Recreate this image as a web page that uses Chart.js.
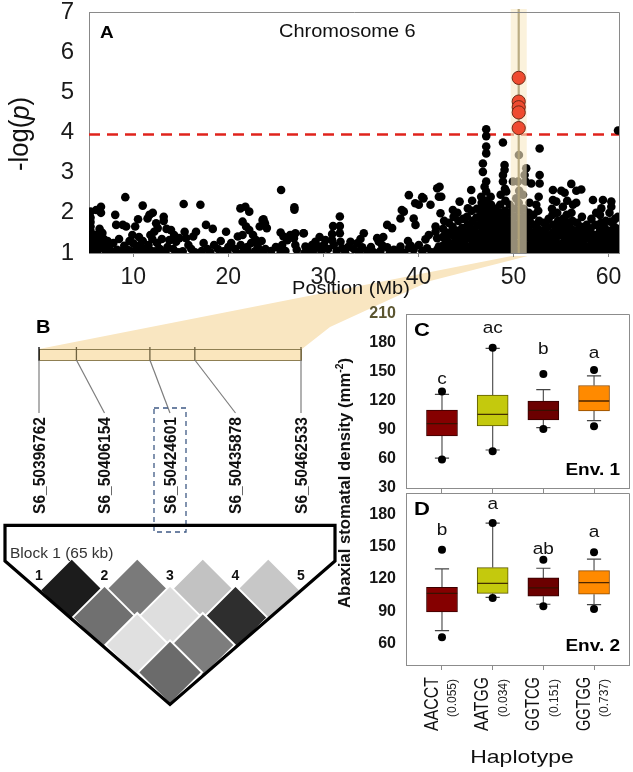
<!DOCTYPE html>
<html>
<head>
<meta charset="utf-8">
<script src="https://cdn.jsdelivr.net/npm/chart.js@4.4.1/dist/chart.umd.min.js"></script>
<style>
  html, body { margin: 0; padding: 0; background: #ffffff; }
  #wrap { position: relative; width: 633px; height: 772px; overflow: hidden; background: #fff; }
  canvas { position: absolute; left: 0; top: 0; }
</style>
</head>
<body>
<div id="wrap">
  <canvas id="cA" width="633" height="772"></canvas>
  <canvas id="cB" width="633" height="772"></canvas>
  <canvas id="cC" width="633" height="772"></canvas>
  <canvas id="cD" width="633" height="772"></canvas>
</div>
<script>
// ---------------- DATA ----------------
// Panel A: Manhattan plot, chromosome 6 (position in Mb, -log(p))
const xTicksA = [10, 20, 30, 40, 50, 60];
const xRangeA = [5.34, 61.1];
const yRangeA = [1, 7];
const thresholdA = 3.95;
const bandMb = 50.55;

const snpsRegion1 = [
[5.45,1.04],[5.45,1.14],[5.45,1.24],[5.45,1.34],[5.45,1.44],[5.5,1.55],[5.5,1.66],[5.5,1.77],[5.5,1.88],[5.5,2.03],
[5.9,1.08],[5.9,1.2],[5.95,1.32],[6.0,1.45],[6.1,2.07],[6.2,1.04],[6.3,1.15],[6.35,1.38],[6.45,1.6],[6.6,2.15],
[6.6,2.0],[6.55,1.27],[6.7,1.12],[6.75,1.5],[6.9,1.35],[7.0,1.22],[7.1,1.06],[7.3,1.3],[7.45,1.14],[7.7,1.04],
[7.9,1.25],[8.1,1.95],[8.2,1.7],[8.3,1.08],[8.5,1.35],[8.7,1.04],[8.9,1.7],[9.16,2.39],[9.25,1.66],[9.05,1.18],
[9.4,1.08],[9.6,1.3],[9.8,1.04],[10.2,1.66],[10.0,1.24],[10.5,1.84],[10.4,1.13],[10.6,1.4],[10.8,1.04],[10.99,2.18],
[11.0,1.3],[11.2,1.1],[11.5,1.86],[11.7,1.95],[11.6,1.2],[11.8,1.45],[12.05,2.0],[12.2,1.53],[12.4,1.74],[12.57,1.62],
[12.3,1.04],[12.5,1.25],[12.8,1.1],[13.2,1.9],[13.2,1.8],[13.0,1.35],[13.4,1.04],[13.8,1.32],[13.97,1.57],[14.3,1.45],
[14.5,1.28],[14.85,1.37],[14.2,1.1],[15.3,2.22],[15.4,1.53],[15.55,1.37],[15.2,1.04],[15.8,1.2],[16.3,1.41],[16.6,1.53],
[16.1,1.1],[17.06,2.2],[17.4,1.25],[17.65,1.7],[17.8,1.1],[18.36,1.6],[18.5,1.2],[18.9,1.1],[19.2,1.3],[19.76,1.53],
[19.5,1.04],[20.0,1.15],[20.3,1.25],[20.7,1.1],[21.0,1.41],[21.27,2.11],[21.5,1.78],[21.5,1.45],[21.79,2.15],[21.87,1.66],
[22.2,2.03],[22.2,1.57],[22.6,1.45],[22.9,1.32],[23.3,1.66],[23.6,1.82],[21.3,1.2],[21.6,1.04],[22.0,1.15],[22.4,1.25],
[22.8,1.04],[23.1,1.15],[23.5,1.3],[23.9,1.1],[6.0,1.0],[7.3,1.02],[9.3,1.0],[10.3,1.02],[11.4,1.02],[11.9,1.05],
[12.9,1.0],[13.6,1.15],[14.7,1.02],[16.5,1.02],[17.2,1.05],[18.1,1.02],[19.9,1.02],[20.9,1.0],[22.2,1.0],[23.4,1.02],
[10.7,1.2],[9.9,1.45],[13.5,1.6],[12.0,1.35]
];

const snpsRegion2 = [
[23.7,1.84],[23.85,1.74],[24.05,1.62],[25.55,2.57],[26.95,2.14],[26.95,2.08],[25.5,1.51],[25.8,1.41],[26.2,1.32],[26.5,1.45],
[27.05,1.49],[26.9,1.37],[27.9,1.49],[25.66,1.2],[25.5,1.03],[27.05,1.2],[27.2,1.08],[28.11,1.16],[28.81,1.2],[29.16,1.28],
[29.52,1.16],[30.04,1.2],[30.22,1.32],[30.92,1.32],[31.09,1.2],[31.8,1.28],[31.97,1.12],[32.85,1.28],[33.55,1.24],[34.08,1.14],
[33.73,1.03],[34.25,1.49],[35.66,1.37],[35.83,1.28],[36.18,1.2],[36.71,1.14],[37.41,1.08],[38.11,1.16],[38.99,1.12],[39.5,1.08],
[40.04,1.2],[40.74,1.34],[41.09,1.45],[41.8,1.53],[41.97,1.37],[42.15,1.16],[41.97,1.08],
[31.02,1.67],[31.73,1.67],[31.73,1.91],[31.73,1.49],[30.92,1.47],[36.71,1.7],[37.23,1.62],[38.11,1.86],[38.46,2.03],[38.99,2.44],
[39.5,1.86],[39.69,1.7],[40.04,2.2],[40.39,2.39],[41.27,2.2],[41.8,1.66],[41.97,2.61],[42.15,2.4],[42.32,1.99],[27.94,1.49],
[28.46,1.12],[24.5,1.05],[25.0,1.15],[26.0,1.05],[28.0,1.0],[28.6,1.05],[29.0,1.08],[29.8,1.03],[30.5,1.1],[31.4,1.05],
[32.3,1.0],[32.6,1.15],[33.2,1.1],[34.6,1.05],[35.0,1.15],[35.3,1.02],[36.0,1.05],[37.0,1.0],[37.8,1.05],[38.5,1.0],
[39.2,1.18],[40.4,1.05],[40.9,1.12],[41.4,1.02],[36.3,1.4],[38.9,1.3],[33.9,1.35],[29.6,1.4],[38.25,2.07],[39.66,2.24],
[40.53,2.36]
];

const snpsRegion3 = [
[47.13,4.08],[47.13,3.91],[47.13,3.65],[47.13,3.48],[46.78,3.23],[46.78,3.02],[48.89,3.75],[49.06,3.19],[49.06,3.07],[48.89,2.94],
[48.89,2.78],[49.94,2.78],[47.13,2.78],[46.96,2.65],[47.13,2.53],[45.55,2.57],[42.22,2.65],[42.4,2.4],[44.33,2.28],[43.62,2.07],
[45.2,2.11],[49.24,2.53],[50.29,2.36],
[42.6,1.05],[42.65,1.2],[42.55,1.4],[42.6,1.6],[42.7,1.8],
[43.1,1.0],[43.15,1.15],[43.05,1.3],[43.1,1.5],[43.2,1.75],
[43.6,1.08],[43.65,1.25],[43.55,1.45],[43.6,1.65],[43.7,1.9],
[44.1,1.02],[44.15,1.18],[44.05,1.35],[44.1,1.55],[44.2,1.8],[44.1,2.0],
[44.6,1.1],[44.65,1.28],[44.55,1.45],[44.6,1.62],[44.7,1.85],
[45.1,1.0],[45.15,1.15],[45.05,1.35],[45.1,1.5],[45.2,1.7],[45.1,1.9],
[45.6,1.08],[45.65,1.22],[45.55,1.4],[45.6,1.6],[45.7,1.8],[45.6,2.05],[45.65,2.3],
[46.1,1.02],[46.15,1.18],[46.05,1.32],[46.1,1.5],[46.2,1.68],[46.1,1.88],[46.15,2.1],
[46.6,1.05],[46.65,1.2],[46.55,1.35],[46.6,1.5],[46.7,1.65],[46.6,1.8],[46.55,1.95],[46.6,2.1],[46.65,2.25],[46.6,2.4],
[47.1,1.1],[47.15,1.25],[47.05,1.4],[47.1,1.55],[47.2,1.7],[47.1,1.85],[47.05,2.0],[47.15,2.15],[47.1,2.3],
[47.6,1.0],[47.65,1.15],[47.55,1.3],[47.6,1.45],[47.7,1.6],[47.6,1.75],[47.55,1.9],[47.6,2.05],[47.65,2.2],[47.6,2.4],
[48.1,1.05],[48.15,1.2],[48.05,1.35],[48.1,1.5],[48.2,1.65],[48.1,1.8],[48.05,1.95],[48.1,2.1],
[48.6,1.1],[48.65,1.25],[48.55,1.4],[48.6,1.55],[48.7,1.7],[48.6,1.85],[48.55,2.0],[48.6,2.2],[48.65,2.45],
[49.1,1.0],[49.15,1.15],[49.05,1.3],[49.1,1.45],[49.2,1.6],[49.1,1.75],[49.05,1.9],[49.1,2.05],[49.15,2.3],[49.1,2.6],
[49.6,1.05],[49.65,1.2],[49.55,1.35],[49.6,1.5],[49.7,1.65],[49.6,1.8],[49.55,2.0],[49.6,2.2],
[50.1,1.1],[50.15,1.25],[50.05,1.4],[50.1,1.55],[50.2,1.7],[50.1,1.9],[50.05,2.1]
];

const snpsRegion4 = [
[51.34,3.11],[50.57,3.44],[51.17,2.94],[51.27,2.78],[50.47,2.78],[51.87,2.73],[52.75,3.6],[52.75,2.94],[52.75,2.73],[51.69,2.25],
[52.4,2.2],[54.15,2.57],[55.03,2.55],[55.38,2.5],[56.08,2.72],[56.61,2.55],[57.13,2.58],[54.15,2.32],[54.5,2.28],[55.2,2.15],
[56.26,2.2],[58.36,2.32],[59.41,2.32],[60.29,2.28],[59.24,2.11],[60.29,2.15],[60.99,1.9],[61.0,4.05],[50.6,2.55],[51.0,2.45],
[50.6,1.05],[50.65,1.25],[50.55,1.45],[50.6,1.65],[50.7,1.85],[50.6,2.05],[50.55,2.25],
[51.1,1.0],[51.15,1.15],[51.05,1.3],[51.1,1.5],[51.2,1.7],[51.1,1.9],[51.05,2.1],
[51.6,1.05],[51.65,1.2],[51.55,1.4],[51.6,1.6],[51.7,1.8],[51.6,2.0],
[52.1,1.0],[52.15,1.15],[52.05,1.3],[52.1,1.5],[52.2,1.7],[52.1,1.95],
[52.6,1.08],[52.65,1.25],[52.55,1.42],[52.6,1.6],[52.7,1.8],[52.6,2.05],[52.65,2.4],
[53.1,1.02],[53.15,1.2],[53.05,1.38],[53.1,1.55],[53.2,1.75],
[53.6,1.1],[53.65,1.28],[53.55,1.45],[53.6,1.65],[53.7,1.85],
[54.1,1.0],[54.15,1.15],[54.05,1.32],[54.1,1.5],[54.2,1.7],[54.1,1.95],[54.05,2.1],
[54.6,1.05],[54.65,1.22],[54.55,1.4],[54.6,1.6],[54.7,1.8],[54.6,2.0],
[55.1,1.1],[55.15,1.25],[55.05,1.45],[55.1,1.65],[55.2,1.85],
[55.6,1.0],[55.65,1.18],[55.55,1.35],[55.6,1.55],[55.7,1.75],[55.6,1.95],[55.65,2.3],
[56.1,1.08],[56.15,1.25],[56.05,1.42],[56.1,1.6],[56.2,1.8],[56.1,2.0],
[56.6,1.02],[56.65,1.2],[56.55,1.38],[56.6,1.55],[56.7,1.75],[56.6,2.25],
[57.1,1.1],[57.15,1.28],[57.05,1.45],[57.1,1.65],[57.2,1.9],
[57.6,1.0],[57.65,1.15],[57.55,1.35],[57.6,1.55],[57.7,1.7],
[58.1,1.05],[58.15,1.22],[58.05,1.4],[58.1,1.6],[58.2,1.85],
[58.6,1.1],[58.65,1.28],[58.55,1.45],[58.6,1.7],[58.7,2.0],
[59.1,1.0],[59.15,1.18],[59.05,1.35],[59.1,1.55],[59.2,1.75],[59.1,1.95],
[59.6,1.08],[59.65,1.25],[59.55,1.42],[59.6,1.62],[59.7,1.8],
[60.1,1.02],[60.15,1.2],[60.05,1.38],[60.1,1.55],[60.2,1.78],[60.1,2.0],
[60.6,1.1],[60.65,1.28],[60.55,1.45],[60.6,1.65],[60.7,1.85],
[61.0,1.05],[61.0,1.2],[61.0,1.4],[61.0,1.6]
];

// significant SNPs in the highlighted locus
const leadSnps = [[50.55,5.36],[50.55,4.77],[50.55,4.63],[50.55,4.5],[50.55,4.11]];

// Panel B: LD block
const snpNames = ['S6_50396762','S6_50406154','S6_50424601','S6_50435878','S6_50462533'];
const snpPositions = [50396762, 50406154, 50424601, 50435878, 50462533];
const leadSnpIndex = 2;
const ldPairs = [[1,2],[2,3],[3,4],[4,5],[1,3],[2,4],[3,5],[1,4],[2,5],[1,5]];
const ldR2 = [0.89, 0.52, 0.24, 0.22, 0.56, 0.13, 0.82, 0.12, 0.51, 0.58];
const blockLabel = 'Block 1 (65 kb)';

// Panels C/D: abaxial stomatal density by haplotype
const haplotypes = ['AACCT','AATGG','GGTCG','GGTGG'];
const haploFreq = ['(0.055)','(0.034)','(0.151)','(0.737)'];
const yTicksC = [30, 60, 90, 120, 150, 180, 210];
const yTicksD = [60, 90, 120, 150, 180];

const cLow  = [61.0, 69.3, 92.4, 99.7];
const cQ1   = [83.8, 94.1, 100.3, 109.7];
const cMed  = [96.6, 106.2, 110.3, 120.0];
const cQ3   = [110.7, 126.2, 120.0, 136.0];
const cHigh = [126.9, 174.5, 131.7, 146.0];
const cOutliers = [[1,129.7],[1,59.5],[2,175.0],[2,68.0],[3,148.0],[3,91.0],[4,152.0],[4,94.0]];
const cLetters = ['c','ac','b','a'];

const dLow  = [71.9, 103.0, 96.5, 96.1];
const dQ1   = [89.3, 106.7, 104.0, 105.8];
const dMed  = [106.7, 116.0, 111.7, 116.6];
const dQ3   = [112.3, 130.6, 121.0, 127.8];
const dHigh = [129.4, 172.0, 130.0, 138.4];
const dOutliers = [[1,147.1],[1,65.7],[2,172.0],[2,102.4],[3,137.8],[3,94.6],[4,145.0],[4,92.1]];
const dLetters = ['b','a','ab','a'];

// ---------------- STYLE / HELPERS ----------------
const FONT = "'Liberation Sans', Arial, Helvetica, sans-serif";
Chart.defaults.font.family = FONT;

function txt(ctx, s, x, y, o) {
  ctx.save();
  ctx.translate(x, y);
  if (o.rot) ctx.rotate(o.rot);
  ctx.font = o.font;
  ctx.fillStyle = o.color || '#000';
  ctx.textAlign = o.align || 'center';
  ctx.textBaseline = o.base || 'middle';
  let sx = o.sx || 1, sy = o.sy || 1;
  if (o.len) sx = o.len / ctx.measureText(s).width;
  ctx.scale(sx, sy);
  ctx.fillText(s, 0, 0);
  ctx.restore();
}

const baseOpts = {
  responsive: false, animation: false, events: [],
  plugins: { legend: { display: false }, tooltip: { enabled: false } }
};
const toPts = arr => arr.map(p => ({ x: p[0], y: p[1] }));
const noPadY = s => { s.paddingTop = 0; s.paddingBottom = 0; };
const noPadX = s => { s.paddingLeft = 0; s.paddingRight = 0; };

// pin a chart's plotting area to given page pixels (corrects any layout drift)
function pinArea(chart, t) {
  for (let k = 0; k < 3; k++) {
    const a = chart.chartArea, p = chart.options.layout.padding;
    const dT = t.top - a.top, dB = a.bottom - t.bottom, dL = t.left - a.left, dR = a.right - t.right;
    if (Math.abs(dT) < 0.5 && Math.abs(dB) < 0.5 && Math.abs(dL) < 0.5 && Math.abs(dR) < 0.5) break;
    p.top += dT; p.bottom += dB; p.left += dL; p.right += dR;
    chart.update('none');
  }
}

// ---------------- PANEL A ----------------
const pluginA = {
  id: 'pA',
  beforeDraw(chart) {
    const ctx = chart.ctx, xs = chart.scales.x;
    const bx = xs.getPixelForValue(bandMb);
    ctx.save();
    ctx.fillStyle = '#f9e6c1';
    ctx.beginPath();
    ctx.moveTo(bx - 7, 256);
    ctx.lineTo(bx + 9, 256);
    ctx.lineTo(430, 281);
    ctx.lineTo(330, 327);
    ctx.lineTo(302, 349);
    ctx.lineTo(39, 349);
    ctx.closePath();
    ctx.fill();
    ctx.restore();
  },
  afterDatasetDraw(chart, args) {
    if (args.index !== 1) return;
    const ctx = chart.ctx, xs = chart.scales.x, a = chart.chartArea;
    const bx = xs.getPixelForValue(bandMb);
    ctx.save();
    ctx.fillStyle = 'rgba(248,234,196,0.6)';
    ctx.fillRect(bx - 8, a.top - 3, 16, a.bottom - a.top + 3);
    ctx.strokeStyle = 'rgba(180,164,122,0.9)';
    ctx.lineWidth = 2.2;
    ctx.beginPath();
    ctx.moveTo(bx, a.top - 3);
    ctx.lineTo(bx, a.bottom);
    ctx.stroke();
    ctx.restore();
  },
  afterDraw(chart) {
    const ctx = chart.ctx, a = chart.chartArea;
    ctx.save();
    ctx.strokeStyle = '#8a8a8a';
    ctx.lineWidth = 1;
    ctx.beginPath();
    ctx.moveTo(a.left, a.top + 0.5);
    ctx.lineTo(a.right + 0.5, a.top + 0.5);
    ctx.lineTo(a.right + 0.5, a.bottom);
    ctx.stroke();
    ctx.restore();
    txt(ctx, 'A', a.left + 11, 33, { font: `bold 19px ${FONT}`, align: 'left', sy: 0.88 });
    txt(ctx, 'Chromosome 6', 279, 32, { font: `20px ${FONT}`, align: 'left', sy: 0.88, color: '#111' });
    txt(ctx, 'Position (Mb)', (a.left + a.right) / 2 - 3, 289, { font: `20px ${FONT}`, sy: 0.9, color: '#111' });
    ctx.save();
    ctx.translate(21, 134);
    ctx.rotate(-Math.PI / 2);
    ctx.scale(0.95, 1);
    ctx.fillStyle = '#111';
    ctx.textBaseline = 'middle';
    ctx.textAlign = 'left';
    const parts = [['-log(', `27px ${FONT}`], ['p', `italic 27px ${FONT}`], [')', `27px ${FONT}`]];
    let total = 0;
    parts.forEach(p => { ctx.font = p[1]; total += ctx.measureText(p[0]).width; });
    let cx = -total / 2;
    parts.forEach(p => { ctx.font = p[1]; ctx.fillText(p[0], cx, 0); cx += ctx.measureText(p[0]).width; });
    ctx.restore();
  }
};

const chartA = new Chart(document.getElementById('cA'), {
  type: 'scatter',
  data: {
    datasets: [
      { label: 'threshold', type: 'line',
        data: [{ x: xRangeA[0], y: thresholdA }, { x: xRangeA[1], y: thresholdA }],
        borderColor: '#e0231c', borderWidth: 2.6, borderDash: [11, 7], pointRadius: 0, order: 5 },
      { label: 'SNPs',
        data: toPts([].concat(snpsRegion1, snpsRegion2, snpsRegion3, snpsRegion4)),
        backgroundColor: '#000', borderColor: '#000', borderWidth: 0, pointRadius: 4.3, order: 4 },
      { label: 'lead',
        data: toPts(leadSnps),
        backgroundColor: '#ef4b2f', borderColor: '#6e2815', borderWidth: 1, pointRadius: 6.6, order: 1 }
    ]
  },
  options: Object.assign({}, baseOpts, {
    layout: { padding: { left: 0, top: 12, right: 14, bottom: 0 } },
    scales: {
      x: {
        type: 'linear', min: xRangeA[0], max: xRangeA[1],
        afterBuildTicks: s => { s.ticks = xTicksA.map(v => ({ value: v })); },
        afterFit: s => { s.height = 772 - 253; noPadX(s); },
        grid: { drawOnChartArea: false, drawTicks: true, tickLength: 4, color: '#888' },
        border: { color: '#888' },
        ticks: { font: { size: 23 }, color: '#1a1a1a', padding: 7, maxRotation: 0 }
      },
      y: {
        min: yRangeA[0], max: yRangeA[1],
        afterFit: s => { s.width = 89; noPadY(s); },
        grid: { drawOnChartArea: false, drawTicks: false },
        border: { color: '#888' },
        ticks: { stepSize: 1, font: { size: 24 }, color: '#1a1a1a', padding: 15 }
      }
    }
  }),
  plugins: [pluginA]
});
pinArea(chartA, { left: 89, top: 12, right: 619, bottom: 253 });

// ---------------- PANEL B ----------------
const pluginB = {
  id: 'pB',
  beforeDatasetsDraw(chart) {
    const ctx = chart.ctx, xs = chart.scales.x;
    const n = snpNames.length;
    const x0 = xs.getPixelForValue(1), x1 = xs.getPixelForValue(n);
    const p0 = snpPositions[0], p1 = snpPositions[n - 1];
    const posPx = snpPositions.map(p => x0 + (p - p0) / (p1 - p0) * (x1 - x0));
    const barTop = 349, barBot = 360, labTop = 417;
    ctx.save();
    ctx.fillStyle = '#fae6bd';
    ctx.fillRect(x0, barTop, x1 - x0, barBot - barTop);
    ctx.strokeStyle = '#8f7f52';
    ctx.lineWidth = 1;
    ctx.strokeRect(x0 + 0.5, barTop + 0.5, x1 - x0, barBot - barTop);
    posPx.forEach((px, i) => {
      ctx.strokeStyle = i === 0 ? '#000' : '#6f6240';
      ctx.lineWidth = 1.3;
      ctx.beginPath(); ctx.moveTo(px, barTop - 2); ctx.lineTo(px, barBot + 1); ctx.stroke();
      const lx = xs.getPixelForValue(i + 1);
      ctx.strokeStyle = '#7d7d7d';
      ctx.lineWidth = 1.2;
      ctx.beginPath(); ctx.moveTo(px, barBot); ctx.lineTo(lx, labTop - 4); ctx.stroke();
    });
    snpNames.forEach((s, i) => {
      const lx = xs.getPixelForValue(i + 1);
      txt(ctx, s, lx + 1, labTop, { font: `bold 17px ${FONT}`, rot: -Math.PI / 2, align: 'right', len: 97, color: '#111' });
    });
    const lx = xs.getPixelForValue(leadSnpIndex + 1);
    ctx.strokeStyle = '#3f5a85';
    ctx.lineWidth = 1.3;
    ctx.setLineDash([5, 4]);
    ctx.strokeRect(lx - 16, 408, 32, 124);
    ctx.setLineDash([]);
    ctx.restore();
    txt(ctx, 'B', 36, 328, { font: `bold 20px ${FONT}`, align: 'left', sy: 0.88 });
  },
  afterDatasetsDraw(chart) {
    const ctx = chart.ctx, xs = chart.scales.x, ys = chart.scales.y;
    const n = snpNames.length;
    const xl = xs.getPixelForValue(1) - 34, xr = xs.getPixelForValue(n) + 34;
    const yTop = ys.getPixelForValue(-1.37), ySide = ys.getPixelForValue(-0.07);
    const apex = [xs.getPixelForValue((1 + n) / 2), ys.getPixelForValue(n - 1 + 1.17)];
    ctx.save();
    ctx.strokeStyle = '#000';
    ctx.lineWidth = 3.2;
    ctx.lineJoin = 'miter';
    ctx.beginPath();
    ctx.moveTo(xl, ySide); ctx.lineTo(xl, yTop); ctx.lineTo(xr, yTop); ctx.lineTo(xr, ySide);
    ctx.lineTo(apex[0], apex[1]); ctx.closePath();
    ctx.stroke();
    ctx.restore();
    txt(ctx, blockLabel, 10, 554, { font: `15.5px ${FONT}`, align: 'left', color: '#333' });
    snpNames.forEach((s, i) => {
      txt(ctx, String(i + 1), xs.getPixelForValue(i + 1), 576, { font: `bold 14px ${FONT}`, color: '#111' });
    });
  }
};

new Chart(document.getElementById('cB'), {
  type: 'scatter',
  data: {
    datasets: [{
      label: 'LD r2',
      data: ldPairs.map(p => ({ x: (p[0] + p[1]) / 2, y: p[1] - p[0] })),
      pointStyle: 'rectRot',
      pointRadius: 32,
      backgroundColor: ldR2.map(r => { const g = Math.round(255 * (1 - r)); return `rgb(${g},${g},${g})`; }),
      borderColor: '#ffffff',
      borderWidth: 2,
      clip: false
    }]
  },
  options: Object.assign({}, baseOpts, {
    layout: { padding: { left: 39, right: 332, top: 0, bottom: 0 } },
    scales: {
      x: { type: 'linear', min: 1, max: snpNames.length, display: false },
      y: { type: 'linear', min: -19.3333, max: 6.4, reverse: true, display: false }
    }
  }),
  plugins: [pluginB]
});

// ---------------- PANELS C / D ----------------
const boxFill = ['#850000', '#c4c90d', '#6b0000', '#ff8a00'];
const boxEdge = ['#3a0000', '#5c5a00', '#300000', '#8c4a00'];

function boxDatasets(low, q1, med, q3, high, outliers) {
  const wh = [], caps = [], meds = [];
  low.forEach((lo, i) => {
    const x = i + 1;
    wh.push({ x, y: lo }, { x, y: q1[i] }, { x, y: null }, { x, y: q3[i] }, { x, y: high[i] }, { x, y: null });
    caps.push({ x: x - 0.14, y: lo }, { x: x + 0.14, y: lo }, { x: x + 0.14, y: null },
              { x: x - 0.14, y: high[i] }, { x: x + 0.14, y: high[i] }, { x: x + 0.14, y: null });
    meds.push({ x: x - 0.3, y: med[i] }, { x: x + 0.3, y: med[i] }, { x: x + 0.3, y: null });
  });
  return [
    { type: 'line', label: 'whiskers', data: wh, borderColor: '#555', borderWidth: 1.2, pointRadius: 0, spanGaps: false, order: 5 },
    { type: 'line', label: 'caps', data: caps, borderColor: '#444', borderWidth: 1.2, pointRadius: 0, spanGaps: false, order: 4 },
    { type: 'bar', label: 'IQR', data: q1.map((q, i) => ({ x: i + 1, y: [q, q3[i]] })),
      backgroundColor: boxFill, borderColor: boxEdge, borderWidth: 1, borderSkipped: false, barThickness: 31, order: 3 },
    { type: 'line', label: 'median', data: meds, borderColor: 'rgba(45,20,0,0.85)', borderWidth: 1.3, pointRadius: 0, spanGaps: false, order: 2 },
    { type: 'scatter', label: 'outliers', data: toPts(outliers), backgroundColor: '#000', borderColor: '#000', borderWidth: 0, pointRadius: 4, order: 1 }
  ];
}

function boxOptions(top, bottom, yMin, yMax, yTicks, tickColorFn) {
  return Object.assign({}, baseOpts, {
    layout: { padding: { left: 325, top: top, right: 4, bottom: 772 - bottom - 10 } },
    scales: {
      x: {
        type: 'linear', min: 0.29, max: 4.69, offset: false,
        afterBuildTicks: s => { s.ticks = haplotypes.map((h, i) => ({ value: i + 1 })); },
        afterFit: s => { s.height = 10; noPadX(s); },
        ticks: { display: false },
        grid: { offset: false, drawOnChartArea: false, drawTicks: true, tickLength: 5, color: '#8c8c8c' },
        border: { color: '#8c8c8c' }
      },
      y: {
        type: 'linear', min: yMin, max: yMax,
        afterBuildTicks: s => { s.ticks = yTicks.map(v => ({ value: v })); },
        afterFit: s => { s.width = 81; noPadY(s); },
        grid: { drawOnChartArea: false, drawTicks: false },
        border: { color: '#8c8c8c' },
        ticks: { font: { size: 16, weight: 'bold' }, color: tickColorFn, padding: 10 }
      }
    }
  });
}

function framePlugin(id, letters, letterY, panel, envText, envY, extra) {
  return {
    id,
    afterDraw(chart) {
      const ctx = chart.ctx, a = chart.chartArea, xs = chart.scales.x, ys = chart.scales.y;
      ctx.save();
      ctx.strokeStyle = '#8c8c8c';
      ctx.lineWidth = 1;
      ctx.beginPath();
      ctx.moveTo(a.left, a.top + 0.5);
      ctx.lineTo(a.right + 0.5, a.top + 0.5);
      ctx.lineTo(a.right + 0.5, a.bottom);
      ctx.stroke();
      ctx.restore();
      letters.forEach((l, i) => {
        txt(ctx, l, xs.getPixelForValue(i + 1), ys.getPixelForValue(letterY[i]), { font: `19px ${FONT}`, sy: 0.86, color: '#111' });
      });
      txt(ctx, panel, a.left + 8, a.top + 17, { font: `bold 22px ${FONT}`, align: 'left', sy: 0.86 });
      txt(ctx, envText, a.right - 9, envY, { font: `bold 19px ${FONT}`, align: 'right', sy: 0.86 });
      if (extra) extra(chart);
    }
  };
}

const cLetterY = [142, 195, 173, 169];
const dLetterY = [165, 189, 147.4, 163.6];

const chartC = new Chart(document.getElementById('cC'), {
  type: 'bar',
  data: { datasets: boxDatasets(cLow, cQ1, cMed, cQ3, cHigh, cOutliers) },
  options: boxOptions(314, 488, 30, 210, yTicksC, c => (c.tick && c.tick.value === 210) ? '#5b5530' : '#151515'),
  plugins: [framePlugin('pC', cLetters, cLetterY, 'C', 'Env. 1', 470)]
});
pinArea(chartC, { left: 406, top: 314, right: 629, bottom: 488 });

const chartD = new Chart(document.getElementById('cD'), {
  type: 'bar',
  data: { datasets: boxDatasets(dLow, dQ1, dMed, dQ3, dHigh, dOutliers) },
  options: boxOptions(493, 665, 40, 200, yTicksD, '#151515'),
  plugins: [framePlugin('pD', dLetters, dLetterY, 'D', 'Env. 2', 646, chart => {
    const ctx = chart.ctx, xs = chart.scales.x;
    haplotypes.forEach((h, i) => {
      const cx = xs.getPixelForValue(i + 1);
      txt(ctx, h, cx - 10, 677, { font: `21px ${FONT}`, rot: -Math.PI / 2, align: 'right', len: 54, color: '#111' });
      txt(ctx, haploFreq[i], cx + 11, 679, { font: `12px ${FONT}`, rot: -Math.PI / 2, align: 'right', len: 38, color: '#222' });
    });
    txt(ctx, 'Haplotype', 522, 758, { font: `23px ${FONT}`, sy: 0.82, color: '#111' });
    ctx.save();
    ctx.translate(346, 483);
    ctx.rotate(-Math.PI / 2);
    ctx.fillStyle = '#111';
    ctx.textBaseline = 'middle';
    ctx.textAlign = 'left';
    const main = 'Abaxial stomatal density (mm', sup = '-2', close = ')';
    ctx.font = `bold 16px ${FONT}`;
    const w1 = ctx.measureText(main).width, w3 = ctx.measureText(close).width;
    ctx.font = `bold 10px ${FONT}`;
    const w2 = ctx.measureText(sup).width;
    const total = w1 + w2 + w3;
    const k = 250 / total;
    ctx.scale(k, 1);
    let x0 = -total / 2;
    ctx.font = `bold 16px ${FONT}`;
    ctx.fillText(main, x0, 0);
    ctx.font = `bold 10px ${FONT}`;
    ctx.fillText(sup, x0 + w1, -6);
    ctx.font = `bold 16px ${FONT}`;
    ctx.fillText(close, x0 + w1 + w2, 0);
    ctx.restore();
  })]
});
pinArea(chartD, { left: 406, top: 493, right: 629, bottom: 665 });
</script>
</body>
</html>
